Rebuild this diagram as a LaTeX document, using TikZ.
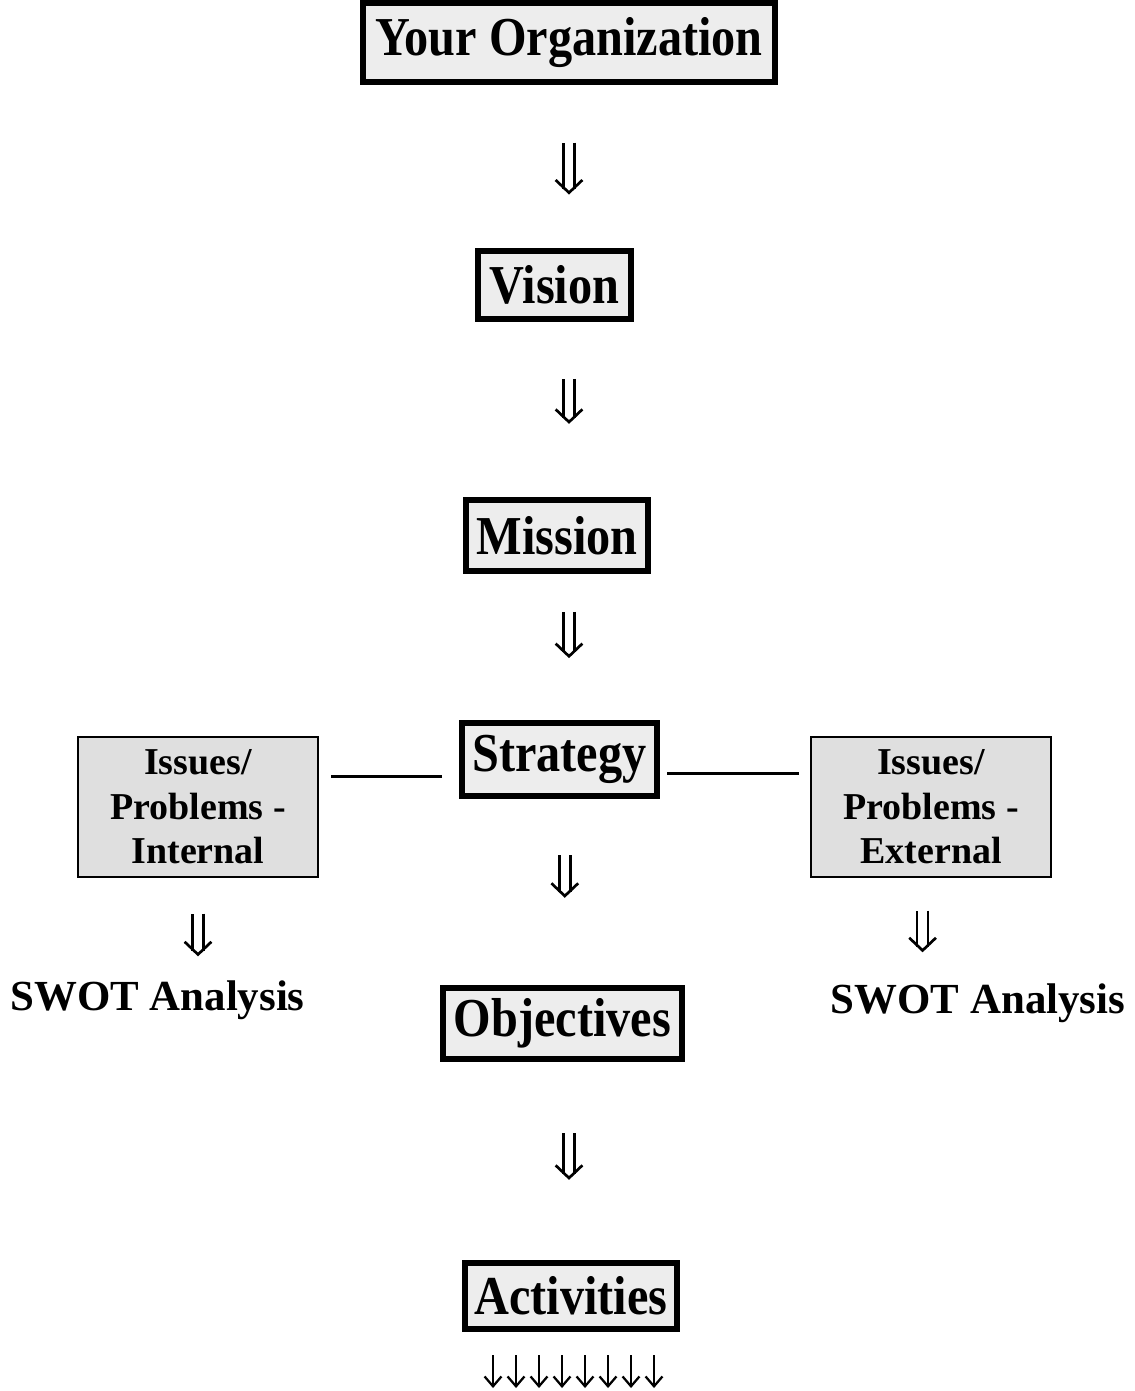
\documentclass[tikz,border=0pt]{standalone}
\usepackage{fontspec}
\setmainfont{Liberation Serif}
\newfontfamily\narrowfont[FakeStretch=0.88]{Liberation Serif}
\usetikzlibrary{arrows.meta, decorations.markings}

\begin{document}
\begin{tikzpicture}[
  x=0.025cm, y=-0.025cm,
  mainbox/.style={draw, line width=4pt, fill=gray!14, inner sep=0pt, font=\narrowfont\bfseries\fontsize{39}{40}\selectfont},
  sidebox/.style={draw, line width=0.9pt, fill=gray!25, inner sep=0pt, align=center, minimum width=6cm, minimum height=3.5cm, font=\bfseries\fontsize{27}{31.7}\selectfont},
  swot/.style={inner sep=0pt, font=\bfseries\fontsize{30.5}{32}\selectfont},
  flow/.style={preaction={draw, double, double distance=6pt, line width=1.9pt, shorten >=4pt},
    postaction={decorate, decoration={markings, mark=at position 1 with {\arrow[line width=1.9pt]{Straight Barb[length=9pt, width=19pt]}}}}},
  link/.style={line width=1.6pt},
  fan/.style={line width=1.6pt, -{Straight Barb[length=7pt, width=12pt]}},
]
\useasboundingbox (0,0) rectangle (1134,1391);

% Main column
\node[mainbox, minimum width=10.31cm, minimum height=1.985cm] (org) at (569, 42.5) {Your Organization};
\node[mainbox, minimum width=3.835cm, minimum height=1.71cm] (vision) at (554.5, 285) {Vision};
\node[mainbox, minimum width=4.56cm, minimum height=1.785cm] (mission) at (557, 535.5) {Mission};
\node[mainbox, minimum width=4.885cm, minimum height=1.835cm] (strategy) at (559.5, 759.5) {Strategy};
\node[mainbox, minimum width=5.985cm, minimum height=1.785cm] (objectives) at (562.5, 1023.5) {Objectives};
\node[mainbox, minimum width=5.31cm, minimum height=1.66cm] (activities) at (571, 1296) {Activities};

% Issues on both sides
\node[sidebox] (internal) at (198, 807) {Issues/\\Problems -\\Internal};
\node[sidebox] (external) at (931, 807) {Issues/\\Problems -\\External};
\node[swot] (swotl) at (157.5, 1000) {SWOT Analysis};
\node[swot] (swotr) at (978, 1003) {SWOT Analysis};

% Arrows
\coordinate (spine) at (569, 0);
\path[flow] ([yshift=-41pt]spine |- org.south) -- ([yshift=38pt]spine |- vision.north);
\path[flow] ([yshift=-40.5pt]spine |- vision.south) -- ([yshift=52pt]spine |- mission.north);
\path[flow] ([yshift=-27pt]spine |- mission.south) -- ([yshift=44pt]spine |- strategy.north);
\path[flow] ([xshift=-3pt, yshift=-40pt]spine |- strategy.south) -- ([xshift=-3pt, yshift=62pt]spine |- objectives.north);
\path[flow] ([yshift=-50.5pt]spine |- objectives.south) -- ([yshift=57pt]spine |- activities.north);
\path[flow] ([yshift=-25.6pt]internal.south) -- ([yshift=17pt]internal.south |- swotl.north);
\path[flow] ([xshift=-6pt, yshift=-23.5pt]external.south) -- ([xshift=-6pt, yshift=22pt]external.south |- swotr.north);
\draw[link, shorten <=12pt, shorten >=9pt] ([yshift=-12pt]strategy.west) -- ([yshift=-12pt]strategy.west -| internal.east);
\draw[link, shorten <=5pt, shorten >=8pt] ([yshift=-10pt]strategy.east) -- ([yshift=-10pt]strategy.east -| external.west);
\foreach \i in {0,...,7}
  \draw[fan] ([xshift={(23*\i-78)*0.025cm}]activities.south) ++(0,23) -- ++(0,33);
\end{tikzpicture}
\end{document}
